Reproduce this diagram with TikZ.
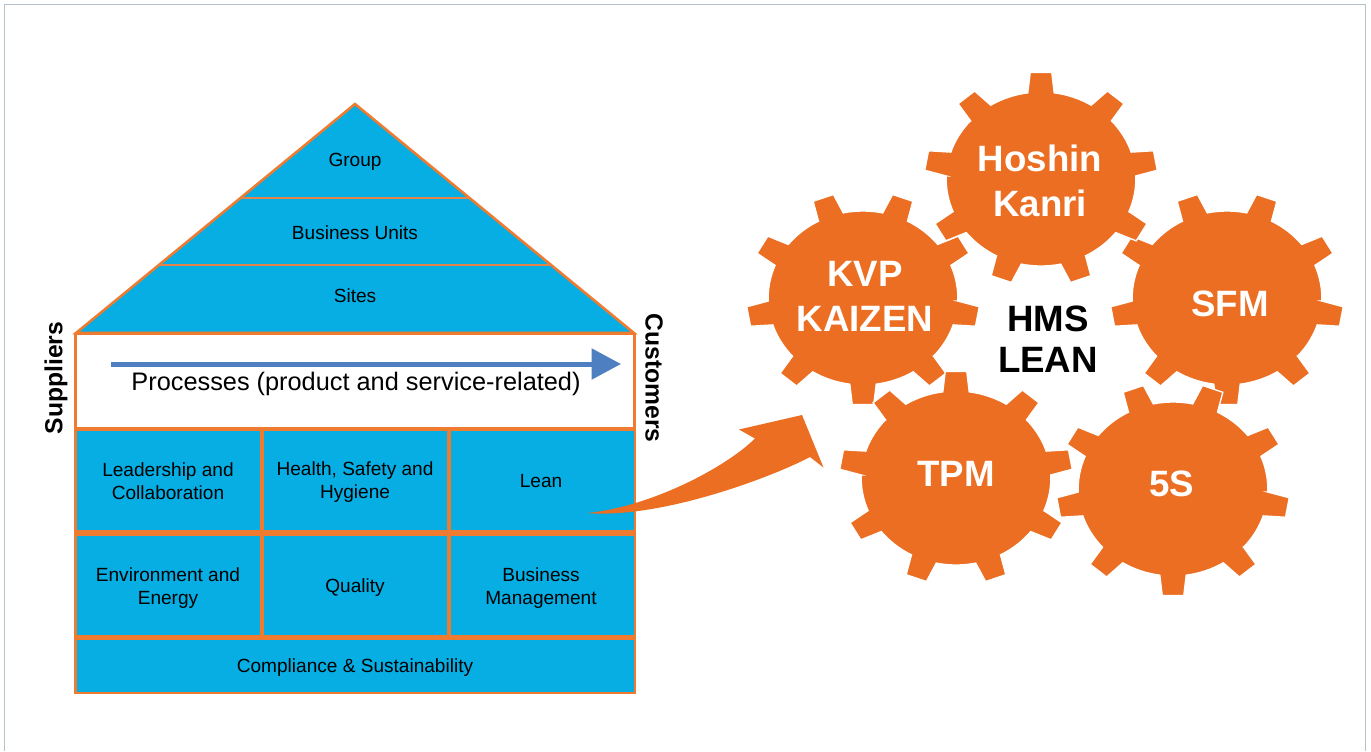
\documentclass[tikz,border=0pt]{standalone}
\usepackage{fontspec}
\setmainfont{Liberation Sans}
\usetikzlibrary{arrows.meta}
\definecolor{housec}{HTML}{EE7B2F}
\definecolor{divc}{HTML}{E2854A}
\definecolor{bluec}{HTML}{06AEE4}
\definecolor{gearc}{HTML}{EB6E22}
\definecolor{procc}{HTML}{4E80C1}
\definecolor{framec}{HTML}{B6C2CA}
\newcommand\gearat[3]{%
  \begin{scope}[shift={(#1,#2)}, xscale=1.09]
    \filldraw[gearshape] ({#3-8}:87)
      \foreach \i in {0,...,8}{
        -- ({#3+40*\i-8}:87) -- ({#3+40*\i-5.3}:107) -- ({#3+40*\i+5.3}:107) -- ({#3+40*\i+8}:87)
        arc[start angle={#3+40*\i+8}, end angle={#3+40*\i+32}, radius=87]
      } -- cycle;
  \end{scope}}
\begin{document}
\begin{tikzpicture}[x=0.75pt,y=-0.75pt,
  housetxt/.style={font=\fontsize{14.3}{17.3}\selectfont, text=black, align=center, inner sep=0pt},
  proctxt/.style={font=\fontsize{19}{23}\selectfont, text=black, inner sep=0pt},
  sidetxt/.style={font=\fontsize{18.5}{22}\selectfont\bfseries, text=black, inner sep=0pt},
  geartxt/.style={font=\fontsize{27.5}{33.8}\selectfont\bfseries, text=white, align=center, inner sep=0pt},
  centertxt/.style={font=\fontsize{27.5}{30.5}\selectfont\bfseries, text=black, align=center, inner sep=0pt},
  gearshape/.style={fill=gearc, draw=white, line width=1pt},
  cell/.style={fill=bluec},
  procarrow/.style={draw=procc, line width=3.75pt, -{Triangle[length=22pt,width=22.5pt]}},
]
\useasboundingbox (0,0) rectangle (1371,751);
% outer frame
\draw[framec, line width=1.3pt] (4.5,751) -- (4.5,4.5) -- (1365.5,4.5) -- (1365.5,751);

% roof
\filldraw[fill=bluec, draw=housec, line width=1.9pt, line join=miter] (76,333) -- (355,104) -- (634,333) -- cycle;
\draw[divc, line width=2.2pt] (240.5,198) -- (469.5,198);
\draw[divc, line width=2.2pt] (158.8,265) -- (551.2,265);

% body
\fill[housec] (74,427) rectangle (636,694);
\filldraw[fill=white, draw=housec, line width=2.2pt] (75.5,334) rectangle (634.5,428);
\fill[cell] (76.5,430.5) rectangle (260,530);
\fill[cell] (264,430.5) rectangle (446.5,530);
\fill[cell] (450.5,430.5) rectangle (633.5,530);
\fill[cell] (76.5,536) rectangle (260,635);
\fill[cell] (264,536) rectangle (446.5,635);
\fill[cell] (450.5,536) rectangle (633.5,635);
\fill[cell] (76.5,640) rectangle (633.5,691.8);

% texts in house
\node[housetxt] (group) at (355,162) {Group};
\node[housetxt] (bu) at (355,233) {Business Units};
\node[housetxt] (sites) at (355,296) {Sites};
\node[housetxt] (lead) at (168,481) {Leadership and\\Collaboration};
\node[housetxt] (hsh) at (355,482) {Health, Safety and\\Hygiene};
\node[housetxt] (lean) at (541,481) {Lean};
\node[housetxt] (env) at (168,588) {Environment and\\Energy};
\node[housetxt] (qual) at (355,588) {Quality};
\node[housetxt] (bm) at (541,588) {Business\\Management};
\node[housetxt] (comp) at (355,668) {Compliance \& Sustainability};

% processes
\coordinate (pa) at (111,364);
\coordinate (pb) at (621,364);
\draw[procarrow] (pa) -- (pb);
\node[proctxt] (proc) at (356,384) {Processes (product and service-related)};

\node[sidetxt, rotate=90] (sup) at (56,378) {Suppliers};
\node[sidetxt, rotate=-90] (cust) at (654,378) {Customers};

% curved arrow
\coordinate (tail) at (587,513);
\fill[gearc] (tail) .. controls (660,519) and (770,478) .. (810,457)
  -- (823.5,467.5) -- (802,415) -- (739,429.5) -- (755,438.5)
  .. controls (725,468) and (650,507) .. (tail) -- cycle;

% gears
\gearat{863}{298}{90}
\gearat{1227}{298}{90}
\gearat{956}{478}{270}
\gearat{1173}{489}{90}
\gearat{1041}{179}{270}

\node[geartxt] (hoshin) at (1040,181) {Hoshin\\Kanri};
\node[geartxt] (kvp) at (865,296) {KVP\\KAIZEN};
\node[geartxt] (sfm) at (1230,304) {SFM};
\node[geartxt] (tpm) at (956,474) {TPM};
\node[geartxt] (fives) at (1172,484) {5S};
\node[centertxt] (hms) at (1048,339) {HMS\\LEAN};
\end{tikzpicture}
\end{document}
